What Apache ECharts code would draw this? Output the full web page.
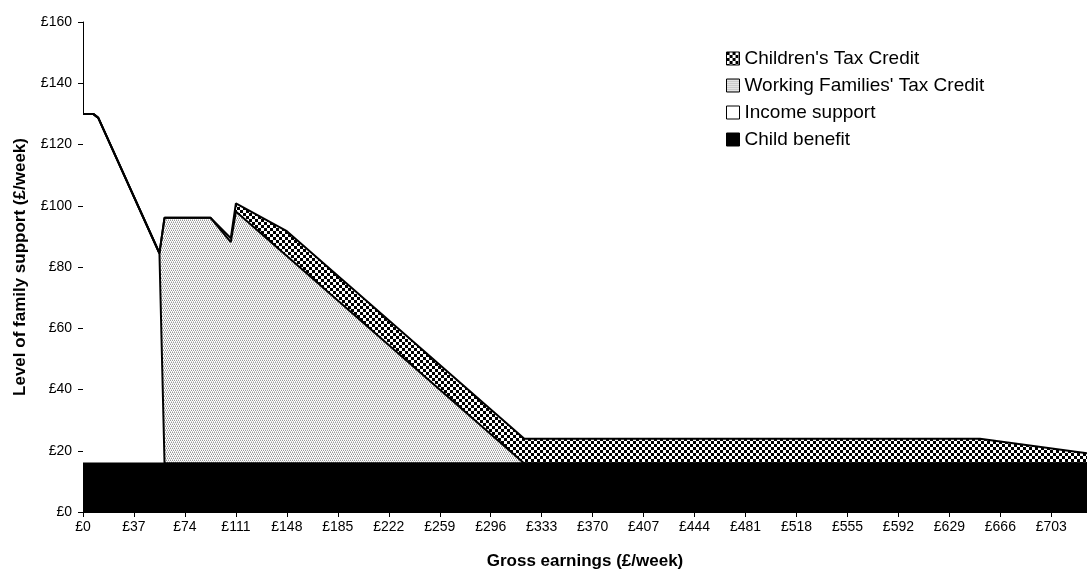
<!DOCTYPE html>
<html>
<head>
<meta charset="utf-8">
<script src="https://cdn.jsdelivr.net/npm/echarts@6/dist/echarts.min.js"></script>
<style>
  html, body { margin: 0; padding: 0; background: #fff; }
  #chart { width: 1087px; height: 571px; }
</style>
</head>
<body>
<div id="chart"></div>
<script>
// gross earnings (£/week) at each breakpoint
var earnings      = [0, 7.4, 11.1, 55.5, 59.2, 92.5, 107.3, 111.0, 148.0, 320.4, 651.2, 728.9];
var childBenefit  = [15.8, 15.8, 15.8, 15.8, 15.8, 15.8, 15.8, 15.8, 15.8, 15.8, 15.8, 15.8];
var incomeSupport = [114.2, 114.2, 112.9, 68.7, 0, 0, 0, 0, 0, 0, 0, 0];
var wftc          = [0, 0, 0, 0, 80.3, 80.3, 72.3, 82.3, 67.8, 0, 0, 0];
var ctc           = [0, 0, 0, 0, 0, 0, 1.3, 2.7, 8.1, 8.1, 8.1, 3.4];

var seriesNames = ['Child benefit', 'Income support', "Working Families' Tax Credit", "Children's Tax Credit"];
var legendOrder = ["Children's Tax Credit", "Working Families' Tax Credit", 'Income support', 'Child benefit'];

var FONT = '"Liberation Sans", Arial, sans-serif';

function makeChecker(cell) {
    var c = document.createElement('canvas');
    c.width = cell * 2;
    c.height = cell * 2;
    var ctx = c.getContext('2d');
    ctx.fillStyle = '#fff';
    ctx.fillRect(0, 0, c.width, c.height);
    ctx.fillStyle = '#000';
    ctx.fillRect(0, 0, cell, cell);
    ctx.fillRect(cell, cell, cell, cell);
    return c;
}

function makeStipple() {
    var rows = [
        ['#999', '#fff', '#999', '#fff'],
        ['#fff', '#ccc', '#fff', '#ccc'],
        ['#fff', '#999', '#fff', '#999'],
        ['#ccc', '#fff', '#ccc', '#fff']
    ];
    var c = document.createElement('canvas');
    c.width = 4;
    c.height = 4;
    var ctx = c.getContext('2d');
    for (var y = 0; y < 4; y++) {
        for (var x = 0; x < 4; x++) {
            ctx.fillStyle = rows[y][x];
            ctx.fillRect(x, y, 1, 1);
        }
    }
    return c;
}

var fills = [
    '#000',
    '#fff',
    { image: makeStipple(), repeat: 'repeat' },
    { image: makeChecker(3), repeat: 'repeat' }
];

/* ECharts stacks on x when both axes are value axes, so add up the layers here
   and draw the tallest first: each lower layer is painted over the one above. */
var layers = [childBenefit, incomeSupport, wftc, ctc];
var running = earnings.map(function () { return 0; });
var cumulative = [];
for (var i = 0; i < layers.length; i++) {
    running = running.map(function (v, k) { return +(v + layers[i][k]).toFixed(2); });
    cumulative.push(running);
}

var series = [];
for (var i = layers.length - 1; i >= 0; i--) {
    var pts = [];
    for (var k = 0; k < earnings.length; k++) {
        pts.push([earnings[k], cumulative[i][k]]);
    }
    series.push({
        name: seriesNames[i],
        type: 'line',
        data: pts,
        symbol: 'none',
        showSymbol: false,
        lineStyle: { color: '#000', width: 2 },
        itemStyle: { color: fills[i], borderColor: '#000', borderWidth: 1 },
        areaStyle: { color: fills[i], opacity: 1 }
    });
}

var chart = echarts.init(document.getElementById('chart'), null, { renderer: 'canvas' });

chart.setOption({
    animation: false,
    backgroundColor: '#fff',
    textStyle: { fontFamily: FONT, color: '#000' },
    grid: { left: 83, right: 0, top: 22, bottom: 59, outerBoundsMode: 'none' },
    legend: {
        data: legendOrder,
        orient: 'vertical',
        left: 721,
        top: 44,
        icon: 'rect',
        itemWidth: 13,
        itemHeight: 13,
        itemGap: 8,
        itemStyle: { borderColor: '#000', borderWidth: 1 },
        textStyle: { fontFamily: FONT, fontSize: 19, color: '#000', lineHeight: 19 }
    },
    xAxis: {
        type: 'value',
        min: 0,
        max: 728.9,
        interval: 37,
        name: 'Gross earnings (£/week)',
        nameLocation: 'middle',
        nameGap: 41,
        nameTextStyle: { fontFamily: FONT, fontSize: 17, fontWeight: 'bold', color: '#000' },
        axisLine: { show: true, lineStyle: { color: '#000', width: 1 } },
        axisTick: { show: true, length: 5, lineStyle: { color: '#000' } },
        axisLabel: {
            margin: 8,
            fontFamily: FONT,
            fontSize: 14,
            color: '#000',
            showMaxLabel: false,
            formatter: function (v) { return '£' + v; }
        },
        splitLine: { show: false }
    },
    yAxis: {
        type: 'value',
        min: 0,
        max: 160,
        interval: 20,
        name: 'Level of family support (£/week)',
        nameLocation: 'middle',
        nameGap: 54,
        nameRotate: 90,
        nameTextStyle: { fontFamily: FONT, fontSize: 17, fontWeight: 'bold', color: '#000' },
        axisLine: { show: true, lineStyle: { color: '#000', width: 1 } },
        axisTick: { show: true, length: 5, lineStyle: { color: '#000' } },
        axisLabel: {
            margin: 11,
            fontFamily: FONT,
            fontSize: 14,
            color: '#000',
            formatter: function (v) { return '£' + v; }
        },
        splitLine: { show: false }
    },
    series: series
});
</script>
</body>
</html>
